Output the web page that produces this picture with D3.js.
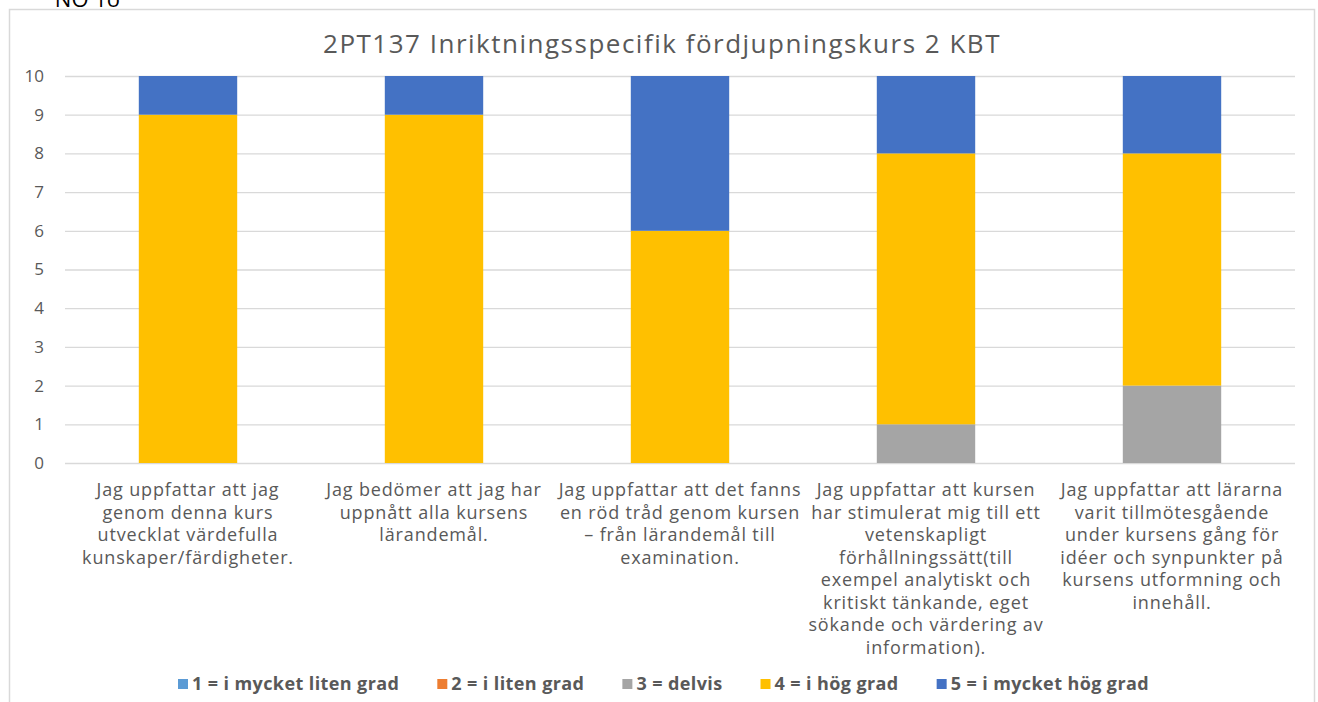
<!DOCTYPE html>
<html>
<head>
<meta charset="utf-8">
<script src="https://cdn.jsdelivr.net/npm/d3@7"></script>
<style>
  body { margin: 0; background: #fff; }
  text { font-family: "Open Sans", sans-serif; }
</style>
</head>
<body>
<div id="chart"></div>
<script>
var svgWidth = 1318;
var svgHeight = 702;

// data
var questions = [
    "Jag uppfattar att jag genom denna kurs utvecklat värdefulla kunskaper/färdigheter.",
    "Jag bedömer att jag har uppnått alla kursens lärandemål.",
    "Jag uppfattar att det fanns en röd tråd genom kursen – från lärandemål till examination.",
    "Jag uppfattar att kursen har stimulerat mig till ett vetenskapligt förhållningssätt(till exempel analytiskt och kritiskt tänkande, eget sökande och värdering av information).",
    "Jag uppfattar att lärarna varit tillmötesgående under kursens gång för idéer och synpunkter på kursens utformning och innehåll."
];
// manual line breaks as in the reference
var labelLines = [
    ["Jag uppfattar att jag", "genom denna kurs", "utvecklat värdefulla", "kunskaper/färdigheter."],
    ["Jag bedömer att jag har", "uppnått alla kursens", "lärandemål."],
    ["Jag uppfattar att det fanns", "en röd tråd genom kursen", "– från lärandemål till", "examination."],
    ["Jag uppfattar att kursen", "har stimulerat mig till ett", "vetenskapligt", "förhållningssätt(till", "exempel analytiskt och", "kritiskt tänkande, eget", "sökande och värdering av", "information)."],
    ["Jag uppfattar att lärarna", "varit tillmötesgående", "under kursens gång för", "idéer och synpunkter på", "kursens utformning och", "innehåll."]
];
var seriesNames = ["1 = i mycket liten grad", "2 = i liten grad", "3 = delvis", "4 = i hög grad", "5 = i mycket hög grad"];
var seriesColors = ["#5B9BD5", "#ED7D31", "#A5A5A5", "#FFC000", "#4472C4"];
var s1 = [0, 0, 0, 0, 0];
var s2 = [0, 0, 0, 0, 0];
var s3 = [0, 0, 0, 1, 2];
var s4 = [9, 9, 6, 7, 6];
var s5 = [1, 1, 4, 2, 2];
var yTicks = [0, 1, 2, 3, 4, 5, 6, 7, 8, 9, 10];
var titleText = "2PT137 Inriktningsspecifik fördjupningskurs 2 KBT";

var seriesValues = [s1, s2, s3, s4, s5];
var table = questions.map(function(q, i) {
    var row = {q: q};
    seriesNames.forEach(function(n, j) { row[n] = seriesValues[j][i]; });
    return row;
});

var margin = {top: 76, right: 23, bottom: 239, left: 65};
var width = svgWidth - margin.left - margin.right;
var height = svgHeight - margin.top - margin.bottom;

var svg = d3.select("#chart").append("svg")
            .attr("width", svgWidth)
            .attr("height", svgHeight);

// chart frame
svg.append("rect")
   .attr("x", 9.5).attr("y", 9.5)
   .attr("width", 1305).attr("height", 720)
   .attr("fill", "#fff")
   .attr("stroke", "#d9d9d9")
   .attr("stroke-width", 1.5);

// stray cropped text at the very top
svg.append("text")
   .attr("x", 50).attr("y", 7)
   .attr("font-family", "Liberation Serif")
   .attr("font-size", 22)
   .attr("fill", "#000")
   .text("'NO 1o");

svg.append("text")
   .attr("x", 662).attr("y", 53)
   .attr("text-anchor", "middle")
   .attr("font-size", 26)
   .attr("letter-spacing", 1.5)
   .attr("fill", "#595959")
   .text(titleText);

var g = svg.append("g")
           .attr("transform", `translate(${margin.left}, ${margin.top})`);

var x = d3.scaleBand()
          .domain(questions)
          .range([0, width])
          .paddingInner(0.6)
          .paddingOuter(0.3);

var y = d3.scaleLinear()
          .domain([0, 10])
          .range([height, 0]);

// gridlines + y labels
var yAxis = g.append("g")
             .call(d3.axisLeft(y).tickValues(yTicks).tickSize(-width).tickFormat(d3.format("d")));
yAxis.select(".domain").remove();
yAxis.selectAll(".tick line").attr("stroke", "#d9d9d9").attr("stroke-width", 1.3);
yAxis.selectAll(".tick text")
     .attr("x", -21)
     .attr("fill", "#595959")
     .attr("font-size", 17)
     .attr("font-family", "Open Sans");

var stacked = d3.stack().keys(seriesNames)(table);

g.selectAll(".series")
 .data(stacked)
 .enter()
 .append("g")
 .attr("class", "series")
 .attr("fill", (d, i) => seriesColors[i])
 .selectAll("rect")
 .data(d => d)
 .enter()
 .append("rect")
 .attr("x", d => x(d.data.q))
 .attr("y", d => y(d[1]))
 .attr("width", x.bandwidth())
 .attr("height", d => y(d[0]) - y(d[1]));

// x labels
var labels = g.append("g")
              .selectAll("text")
              .data(questions)
              .enter()
              .append("text")
              .attr("text-anchor", "middle")
              .attr("font-size", 18)
              .attr("letter-spacing", 0.85)
              .attr("fill", "#595959")
              .attr("transform", d => `translate(${x(d) + x.bandwidth() / 2}, ${height + 33})`);

labels.selectAll("tspan")
      .data((d, i) => labelLines[i])
      .enter()
      .append("tspan")
      .attr("x", 0)
      .attr("dy", (d, i) => i === 0 ? 0 : 22.5)
      .text(d => d);

// legend
var legend = svg.append("g").attr("transform", "translate(0, 684)");
var lx = 178;
seriesNames.forEach(function(n, i) {
    legend.append("rect")
          .attr("x", lx).attr("y", -5)
          .attr("width", 10).attr("height", 10)
          .attr("fill", seriesColors[i]);
    var t = legend.append("text")
          .attr("x", lx + 14).attr("y", 6)
          .attr("font-size", 18)
          .attr("font-weight", "bold")
          .attr("letter-spacing", 0.4)
          .attr("fill", "#595959")
          .text(n);
    lx += 14 + t.node().getComputedTextLength() + 38;
});
</script>
</body>
</html>
